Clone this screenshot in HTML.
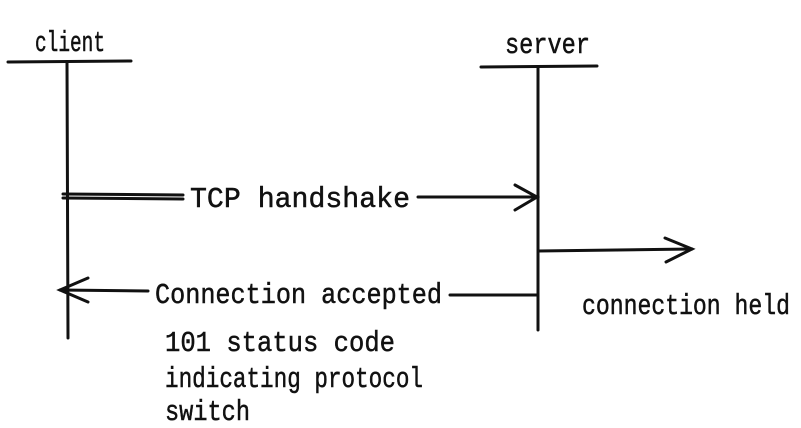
<!DOCTYPE html>
<html><head><meta charset="utf-8"><style>html,body{margin:0;padding:0;background:#fff}svg{display:block}</style></head>
<body>
<svg width="801" height="428" viewBox="0 0 801 428" xmlns="http://www.w3.org/2000/svg">
<g fill="none" stroke="#111" stroke-width="3" stroke-linecap="round">
<path d="M8 62 L131 61"/>
<path d="M67 62 L68 338"/>
<path d="M481 67 L597 66"/>
<path d="M538 67 L538 330"/>
<path d="M63 194 L183 195"/><path d="M63 198 L183 199"/>
<path d="M418 197 L537 197"/>
<path d="M515 185 L537 197 L515 210"/>
<path d="M538 251 L692 249"/>
<path d="M665 238 L692 249 L666 262"/>
<path d="M537 295 L450 295"/>
<path d="M148 291 L60 290"/>
<path d="M88 278 L60 290 L88 302"/>
</g>
<g font-family="Liberation Mono, monospace" font-size="29" fill="#111" stroke="#111" stroke-width="0.5">
<text x="35" y="51" textLength="70" lengthAdjust="spacingAndGlyphs">client</text>
<text x="505" y="53" textLength="85" lengthAdjust="spacingAndGlyphs">server</text>
<text x="190" y="207" textLength="220" lengthAdjust="spacingAndGlyphs">TCP handshake</text>
<text x="155" y="303" textLength="287" lengthAdjust="spacingAndGlyphs">Connection accepted</text>
<text x="582" y="314" textLength="208" lengthAdjust="spacingAndGlyphs">connection held</text>
<text x="165" y="351" textLength="230" lengthAdjust="spacingAndGlyphs">101 status code</text>
<text x="165" y="387" textLength="258" lengthAdjust="spacingAndGlyphs">indicating protocol</text>
<text x="165" y="420" textLength="85" lengthAdjust="spacingAndGlyphs">switch</text>
</g>
</svg>
</body></html>
